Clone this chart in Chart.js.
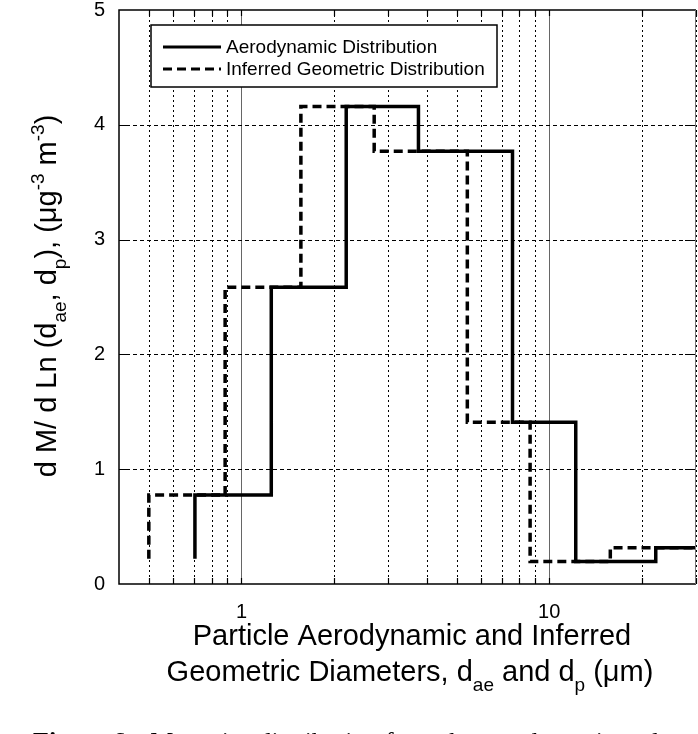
<!DOCTYPE html>
<html>
<head>
<meta charset="utf-8">
<script src="https://cdn.jsdelivr.net/npm/chart.js@4.4.1/dist/chart.umd.min.js"></script>
<style>
  html, body { margin: 0; padding: 0; background: #fff; }
  #wrap { width: 698px; height: 734px; position: relative; }
</style>
</head>
<body>
<div id="wrap"><canvas id="sizeChart"></canvas></div>
<script>
// bin edges (um) and mass values
const aeroEdges = [0.706, 1.25, 2.19, 3.76, 7.6, 12.2, 22.2, 30];
const aeroValues = [0.775, 2.585, 4.16, 3.77, 1.41, 0.195, 0.315];
const geoEdges = [0.5, 0.885, 1.56, 2.70, 5.42, 8.67, 15.8, 30];
const geoValues = [0.775, 2.585, 4.16, 3.77, 1.41, 0.195, 0.315];
const startValue = 0.22;

const xTicks = [0.5, 0.6, 0.7, 0.8, 0.9, 1, 2, 3, 4, 5, 6, 7, 8, 9, 10, 20, 30];
const xMajor = [1, 10];
const yTicks = [0, 1, 2, 3, 4, 5];
const yGrid = [1, 2, 3, 4];

const legendLabels = ['Aerodynamic Distribution', 'Inferred Geometric Distribution'];

const SANS = '"Liberation Sans", Arial, Helvetica, sans-serif';
const SERIF = '"Liberation Serif", "Times New Roman", serif';

// turn edges + values into the corner points of a step outline
function stepPoints(edges, values, start) {
    const pts = [{x: edges[0], y: start}];
    values.forEach((v, i) => {
        pts.push({x: edges[i], y: v});
        pts.push({x: edges[i + 1], y: v});
    });
    return pts;
}

// draw a run of text pieces, some as sub/superscripts
function richText(ctx, parts, x, y, size, align) {
    const small = Math.round(size * 0.66);
    let total = 0;
    parts.forEach(p => {
        ctx.font = (p.sub || p.sup ? small : size) + 'px ' + SANS;
        p.w = ctx.measureText(p.t).width;
        total += p.w;
    });
    let cx = align === 'center' ? x - total / 2 : x;
    ctx.textAlign = 'left';
    ctx.textBaseline = 'alphabetic';
    parts.forEach(p => {
        ctx.font = (p.sub || p.sup ? small : size) + 'px ' + SANS;
        let dy = 0;
        if (p.sub) dy = size * 0.33;
        if (p.sup) dy = -size * 0.42;
        ctx.fillText(p.t, cx, y + dy);
        cx += p.w;
    });
}

function noPad(s) {
    s.paddingTop = 0; s.paddingBottom = 0;
    s.paddingLeft = 0; s.paddingRight = 0;
}

const framePlugin = {
    id: 'frame',
    beforeDatasetsDraw(chart) {
        const {ctx, chartArea: a, scales: {x, y}} = chart;
        ctx.save();
        ctx.lineWidth = 1;
        // vertical grid
        xTicks.forEach(v => {
            const px = Math.round(x.getPixelForValue(v)) + 0.5;
            ctx.beginPath();
            if (xMajor.includes(v)) {
                ctx.setLineDash([]);
                ctx.strokeStyle = '#666';
            } else {
                ctx.setLineDash([2, 3]);
                ctx.strokeStyle = '#000';
            }
            ctx.moveTo(px, a.top);
            ctx.lineTo(px, a.bottom);
            ctx.stroke();
        });
        // horizontal grid
        ctx.setLineDash([4, 3]);
        ctx.strokeStyle = '#000';
        yGrid.forEach(v => {
            const py = Math.round(y.getPixelForValue(v)) + 0.5;
            ctx.beginPath();
            ctx.moveTo(a.left, py);
            ctx.lineTo(a.right, py);
            ctx.stroke();
        });
        ctx.restore();
    },
    afterDatasetsDraw(chart) {
        const {ctx, chartArea: a, scales: {x, y}} = chart;
        ctx.save();
        ctx.setLineDash([]);
        ctx.strokeStyle = '#000';
        ctx.lineWidth = 1.2;
        // inner ticks
        ctx.beginPath();
        xTicks.forEach(v => {
            const px = Math.round(x.getPixelForValue(v)) + 0.5;
            ctx.moveTo(px, a.bottom); ctx.lineTo(px, a.bottom - 6);
            ctx.moveTo(px, a.top); ctx.lineTo(px, a.top + 6);
        });
        yGrid.forEach(v => {
            const py = Math.round(y.getPixelForValue(v)) + 0.5;
            ctx.moveTo(a.left, py); ctx.lineTo(a.left + 11, py);
            ctx.moveTo(a.right, py); ctx.lineTo(a.right - 11, py);
        });
        ctx.stroke();
        // frame
        ctx.lineWidth = 1.5;
        ctx.beginPath();
        ctx.moveTo(a.right, a.top);
        ctx.lineTo(a.left, a.top);
        ctx.lineTo(a.left, a.bottom);
        ctx.lineTo(a.right, a.bottom);
        ctx.stroke();
        ctx.strokeStyle = '#777';
        ctx.lineWidth = 1;
        ctx.beginPath();
        ctx.moveTo(a.right - 0.5, a.top);
        ctx.lineTo(a.right - 0.5, a.bottom);
        ctx.stroke();

        // legend box
        const bx = 151, by = 25, bw = 346, bh = 62;
        ctx.fillStyle = '#fff';
        ctx.fillRect(bx, by, bw, bh);
        ctx.strokeStyle = '#000';
        ctx.lineWidth = 1.5;
        ctx.strokeRect(bx, by, bw, bh);
        chart.data.datasets.forEach((ds, i) => {
            const ly = by + 22 + i * 22;
            ctx.beginPath();
            ctx.lineWidth = 3;
            ctx.setLineDash(ds.borderDash || []);
            ctx.moveTo(163, ly);
            ctx.lineTo(221, ly);
            ctx.stroke();
            ctx.setLineDash([]);
            ctx.fillStyle = '#000';
            ctx.font = '19px ' + SANS;
            ctx.textAlign = 'left';
            ctx.textBaseline = 'middle';
            ctx.fillText(legendLabels[i], 226, ly + 1);
        });
        ctx.restore();
    },
    afterDraw(chart) {
        const {ctx} = chart;
        ctx.save();
        ctx.fillStyle = '#000';
        // x title
        richText(ctx, [{t: 'Particle Aerodynamic and Inferred'}], 412, 645, 29, 'center');
        richText(ctx, [
            {t: 'Geometric Diameters, d'}, {t: 'ae', sub: true},
            {t: ' and d'}, {t: 'p', sub: true}, {t: ' (\u03bcm)'}
        ], 410, 681, 29, 'center');
        // y title, rotated
        ctx.translate(56, 296);
        ctx.rotate(-Math.PI / 2);
        richText(ctx, [
            {t: 'd M/ d Ln (d'}, {t: 'ae', sub: true}, {t: ', d'}, {t: 'p', sub: true},
            {t: '), (\u03bcg'}, {t: '-3', sup: true}, {t: ' m'}, {t: '-3', sup: true}, {t: ')'}
        ], 0, 0, 29, 'center');
        ctx.restore();
        // caption, cut by the bottom edge
        ctx.save();
        ctx.fillStyle = '#000';
        ctx.textBaseline = 'alphabetic';
        ctx.textAlign = 'left';
        ctx.font = 'bold 26px ' + SERIF;
        ctx.fillText('Figure 6.', 33, 750);
        const fw = ctx.measureText('Figure 6.').width;
        ctx.font = '26px ' + SERIF;
        ctx.fillText('Mass size distribution from the aerodynamic and', 33 + fw + 18, 750);
        ctx.restore();
    }
};

new Chart(document.getElementById('sizeChart'), {
    type: 'line',
    data: {
        datasets: [
            {
                label: legendLabels[0],
                data: stepPoints(aeroEdges, aeroValues, startValue),
                borderColor: '#000',
                borderWidth: 3.5,
                pointRadius: 0,
                fill: false,
                tension: 0,
            },
            {
                label: legendLabels[1],
                data: stepPoints(geoEdges, geoValues, startValue),
                borderColor: '#000',
                borderWidth: 3.5,
                borderDash: [9, 5],
                pointRadius: 0,
                fill: false,
                tension: 0,
            },
        ],
    },
    options: {
        responsive: true,
        maintainAspectRatio: false,
        animation: false,
        layout: {padding: {top: 10, right: 2, left: 0, bottom: 0}},
        plugins: {legend: {display: false}, tooltip: {enabled: false}},
        scales: {
            x: {
                type: 'logarithmic',
                min: 0.4,
                max: 30,
                afterBuildTicks: s => { s.ticks = xTicks.map(v => ({value: v})); },
                afterFit: s => { s.height = 150; noPad(s); },
                grid: {display: false, drawTicks: false},
                border: {display: false},
                ticks: {
                    autoSkip: false,
                    maxRotation: 0,
                    padding: 16,
                    color: '#000',
                    font: {family: SANS, size: 20},
                    callback: v => xMajor.includes(v) ? String(v) : '',
                },
            },
            y: {
                type: 'linear',
                min: 0,
                max: 5,
                afterBuildTicks: s => { s.ticks = yTicks.map(v => ({value: v})); },
                afterFit: s => { s.width = 119; noPad(s); },
                grid: {display: false, drawTicks: false},
                border: {display: false},
                ticks: {
                    padding: 14,
                    color: '#000',
                    font: {family: SANS, size: 20},
                },
            },
        },
    },
    plugins: [framePlugin],
});
</script>
</body>
</html>
